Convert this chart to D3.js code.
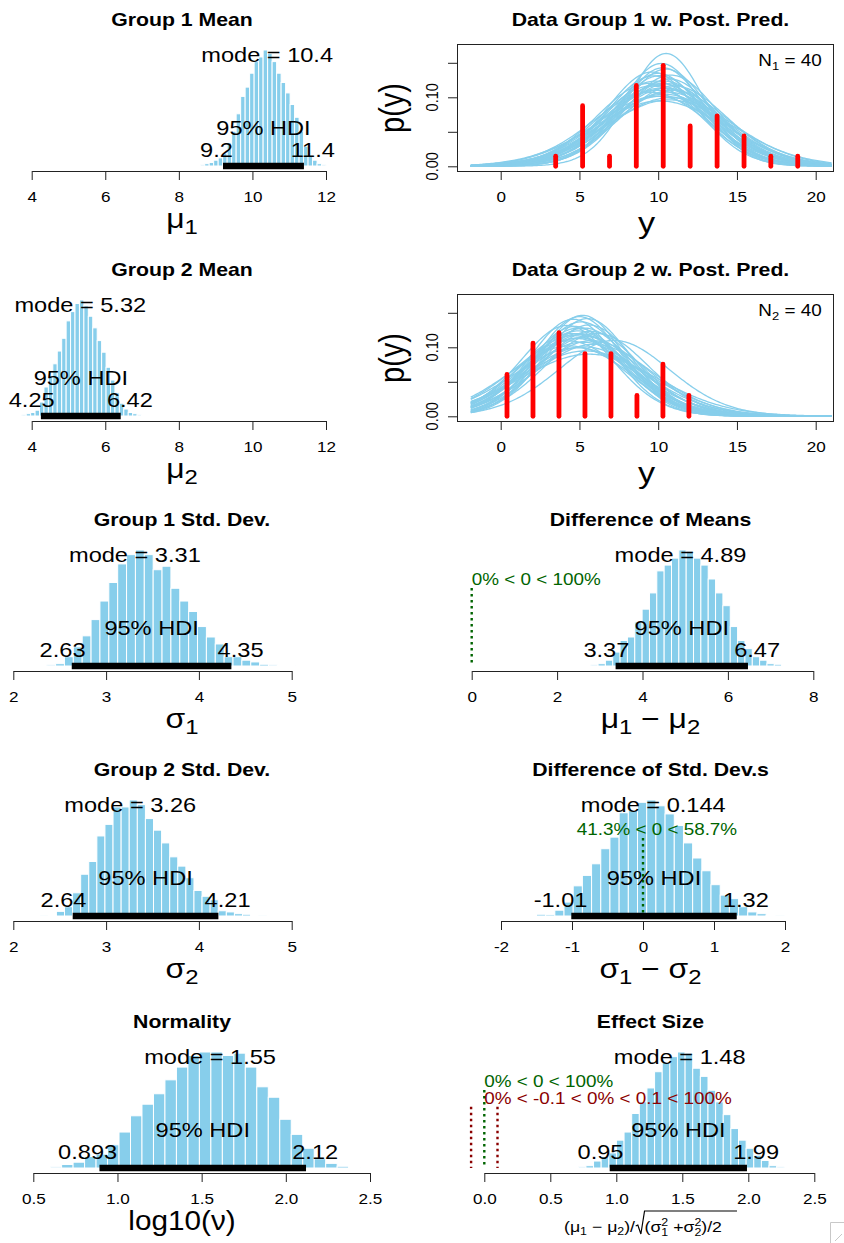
<!DOCTYPE html>
<html>
    <head>
        <meta charset="UTF-8">
        <title>BEST posterior</title>
        <style type="text/css">
            body { margin: 0; background: #ffffff; }
            #chart { display: block; font-family: "Liberation Sans", Arial, sans-serif; }
        </style>
        <script src="https://d3js.org/d3.v7.min.js"></script>
    </head>
    <body>
        <svg id="chart" width="844" height="1243"></svg>
        <script>
            // ---- values ----
            // histograms: [first break, bin width], relative bar heights, mode, 95% HDI
            const mu1Ticks = [4, 6, 8, 10, 12];
            const mu1Bins = [8.58, 0.1222];
            const mu1Density = [0.01, 0.02, 0.03, 0.05, 0.07, 0.11, 0.2, 0.3, 0.45, 0.6, 0.68, 0.8, 0.9, 0.94,
                                1.0, 0.97, 0.9, 0.8, 0.72, 0.63, 0.53, 0.42, 0.3, 0.17, 0.09, 0.05, 0.02, 0.01];
            const mu1Mode = 10.4, mu1Hdi = [9.2, 11.4];

            const mu2Ticks = [4, 6, 8, 10, 12];
            const mu2Bins = [3.73, 0.1206];
            const mu2Density = [0.01, 0.02, 0.03, 0.05, 0.12, 0.25, 0.35, 0.45, 0.56, 0.67, 0.82, 0.9, 0.97, 1.0,
                                0.95, 0.86, 0.76, 0.65, 0.55, 0.42, 0.31, 0.2, 0.11, 0.06, 0.03, 0.02, 0.01];
            const mu2Mode = 5.32, mu2Hdi = [4.25, 6.42];

            const sigma1Ticks = [2, 3, 4, 5];
            const sigma1Bins = [2.36, 0.0956];
            const sigma1Density = [0.01, 0.02, 0.08, 0.165, 0.26, 0.4, 0.56, 0.72, 0.88, 0.96, 1.0, 0.96, 0.83, 0.86,
                                   0.67, 0.56, 0.47, 0.34, 0.25, 0.19, 0.08, 0.08, 0.05, 0.035, 0.015, 0.01, 0.005, 0.005];
            const sigma1Mode = 3.31, sigma1Hdi = [2.63, 4.35];

            const sigma2Ticks = [2, 3, 4, 5];
            const sigma2Bins = [2.29, 0.0872];
            const sigma2Density = [0.003, 0.006, 0.04, 0.08, 0.2, 0.36, 0.47, 0.69, 0.79, 0.94, 0.94, 1.0, 0.96, 0.84,
                                   0.74, 0.63, 0.51, 0.43, 0.33, 0.22, 0.17, 0.14, 0.045, 0.035, 0.02, 0.015, 0.006, 0.003];
            const sigma2Mode = 3.26, sigma2Hdi = [2.64, 4.21];

            const diffMuTicks = [0, 2, 4, 6, 8];
            const diffMuBins = [2.615, 0.172];
            const diffMuDensity = [0.005, 0.01, 0.02, 0.05, 0.12, 0.22, 0.25, 0.38, 0.49, 0.63, 0.82, 0.87, 0.93, 1.0,
                                   0.99, 0.93, 0.87, 0.75, 0.63, 0.52, 0.34, 0.22, 0.15, 0.08, 0.05, 0.02, 0.015, 0.005];
            const diffMuMode = 4.89, diffMuHdi = [3.37, 6.47];
            const diffMuComp = [0, 0, 100];          // value, % below, % above

            const diffSdTicks = [-2, -1, 0, 1, 2];
            const diffSdBins = [-1.63, 0.1294];
            const diffSdDensity = [0.005, 0.015, 0.012, 0.05, 0.12, 0.26, 0.35, 0.45, 0.58, 0.68, 0.89, 0.91, 0.98, 1.0,
                                   0.95, 0.88, 0.78, 0.63, 0.5, 0.39, 0.27, 0.18, 0.15, 0.08, 0.035, 0.02, 0.005, 0.003];
            const diffSdMode = 0.144, diffSdHdi = [-1.01, 1.32];
            const diffSdComp = [0, 41.3, 58.7];

            const nuTicks = [0.5, 1.0, 1.5, 2.0, 2.5];
            const nuBins = [0.6, 0.0682];
            const nuDensity = [0.01, 0.03, 0.05, 0.1, 0.12, 0.2, 0.31, 0.45, 0.55, 0.64, 0.76, 0.87, 0.97, 1.0,
                               1.0, 0.97, 0.99, 0.87, 0.7, 0.61, 0.42, 0.29, 0.17, 0.08, 0.04, 0.015, 0.005];
            const nuMode = 1.55, nuHdi = [0.893, 2.12];

            const effTicks = [0, 0.5, 1.0, 1.5, 2.0, 2.5];
            const effBins = [0.712, 0.0578];
            const effDensity = [0.01, 0.02, 0.06, 0.1, 0.13, 0.24, 0.31, 0.47, 0.57, 0.69, 0.83, 0.91, 0.96, 1.0,
                                0.99, 0.86, 0.79, 0.67, 0.57, 0.46, 0.34, 0.24, 0.17, 0.11, 0.065, 0.02, 0.01];
            const effMode = 1.48, effHdi = [0.95, 1.99];
            const effComp = [0, 0, 100];
            const effRope = [-0.1, 0.1], effRopePct = [0, 0, 100];

            // data histograms of the two groups: bin centres, counts
            const y1Centers = [3.49, 5.2, 6.91, 8.61, 10.32, 12.03, 13.74, 15.45, 17.15, 18.86];
            const y1Counts = [1, 6, 1, 8, 10, 4, 5, 3, 1, 1];
            const y1BinWidth = 1.708;
            const y2Centers = [0.4, 2.05, 3.7, 5.35, 7.0, 8.65, 10.3, 11.95];
            const y2Counts = [4, 7, 8, 6, 6, 2, 5, 2];
            const y2BinWidth = 1.65;

            // posterior predictive t curves: [mu, sigma, nu]
            const g1Curves = [[10.2, 3.3, 30], [10.5, 3.5, 40], [9.8, 3.2, 25], [10.9, 3.6, 50], [10.1, 3.0, 20],
                              [10.4, 3.8, 60], [9.6, 3.4, 35], [10.7, 3.1, 15], [10.3, 3.9, 80], [9.9, 3.6, 45],
                              [10.6, 3.3, 28], [10.0, 2.9, 12], [10.8, 4.0, 90], [9.5, 3.7, 33], [10.2, 3.5, 55],
                              [10.5, 2.8, 22], [9.7, 3.0, 18], [11.0, 3.4, 38], [10.1, 4.2, 70], [10.4, 3.2, 26],
                              [9.4, 3.3, 40], [10.6, 3.7, 65], [10.3, 2.75, 16], [9.9, 3.9, 30], [10.8, 3.0, 42],
                              [10.0, 3.4, 100], [10.7, 4.1, 24], [9.6, 2.9, 36], [10.2, 2.65, 25], [10.5, 2.42, 30]];
            const g2Curves = [[5.0, 3.3, 30], [5.3, 3.1, 40], [4.8, 3.5, 25], [5.6, 3.0, 50], [4.6, 2.8, 20],
                              [5.2, 3.7, 60], [4.9, 3.2, 35], [5.5, 3.4, 15], [4.4, 3.9, 80], [5.1, 2.9, 45],
                              [5.8, 3.6, 28], [4.7, 3.0, 12], [5.4, 4.2, 90], [4.5, 3.3, 33], [5.0, 2.75, 55],
                              [5.7, 3.2, 22], [4.3, 3.6, 18], [5.9, 3.8, 38], [4.8, 4.0, 70], [5.2, 2.7, 26],
                              [6.1, 3.3, 40], [4.6, 3.4, 65], [5.3, 3.9, 16], [4.9, 3.1, 30], [5.5, 2.8, 42],
                              [5.0, 3.5, 100], [4.2, 3.0, 24], [5.6, 4.4, 36], [5.1, 3.3, 12], [7.2, 3.6, 30]];
            const predXTicks = [0, 5, 10, 15, 20];
            const predYTicks = [0, 0.05, 0.10, 0.15];
            const predYLabeled = [0, 0.10];
            const predRange = [-1.9, 21];

            // ---- layout ----
            const SKY = "#87CEEB";
            const SX = 1.18;                  // the picture is stretched sideways
            const rowY = [0, 250, 500, 750, 1002];
            const colX = [182, 650.5];
            const TITLE_Y = 26, BASE = 166, H = 116, AXIS_Y = 171, XLAB_Y = 228;

            const svg = d3.select("#chart");

            function txt(g, x, y, s, o = {}) {
                const sx = o.sx || SX;
                const t = g.append("text")
                    .attr("font-size", o.size || 14)
                    .attr("font-weight", o.bold ? "bold" : null)
                    .attr("fill", o.fill || "#000")
                    .attr("text-anchor", o.adj === undefined ? (o.anchor || "middle") : "start")
                    .text(s);
                let tx = x;
                if (o.adj !== undefined) tx = x - o.adj * t.node().getComputedTextLength() * sx;
                t.attr("transform", `translate(${tx},${y}) scale(${sx},1)` + (o.rot ? " rotate(-90)" : ""));
                return t;
            }

            // parts: [string, 0 normal | 1 subscript]
            function mathTxt(g, x, y, parts, size = 27) {
                const t = g.append("text").attr("font-size", size).attr("text-anchor", "start");
                let cur = 0;
                parts.forEach(([s, k]) => {
                    const off = k ? size * 0.22 : 0;
                    t.append("tspan").attr("dy", off - cur).attr("font-size", k ? size * 0.75 : size).text(s);
                    cur = off;
                });
                const w = t.node().getComputedTextLength();
                t.attr("transform", `translate(${x - w * SX / 2},${y}) scale(${SX},1)`);
            }

            function effectLabel(g, cx, y) {
                const s = 15, ss = 10.5, gg = g.append("g");
                const a = gg.append("text").attr("font-size", s);
                a.append("tspan").text("(μ");
                a.append("tspan").attr("font-size", ss).attr("dy", 3).text("1");
                a.append("tspan").attr("dy", -3).text(" − μ");
                a.append("tspan").attr("font-size", ss).attr("dy", 3).text("2");
                a.append("tspan").attr("dy", -3).text(")/");
                const wa = a.node().getComputedTextLength();
                const rx = wa + 0.5;
                const b = gg.append("text").attr("font-size", s).attr("x", rx + 7.5);
                const w2 = ss * 0.556;
                b.append("tspan").text("(σ");
                b.append("tspan").attr("font-size", ss).attr("dy", -6).text("2");
                b.append("tspan").attr("font-size", ss).attr("dx", -w2).attr("dy", 10).text("1");
                b.append("tspan").attr("dy", -4).text(" +σ");
                b.append("tspan").attr("font-size", ss).attr("dy", -6).text("2");
                b.append("tspan").attr("font-size", ss).attr("dx", -w2).attr("dy", 10).text("2");
                b.append("tspan").attr("dy", -4).text(")/2");
                const wb = b.node().getComputedTextLength();
                const end = rx + 7.5 + wb + 1;
                gg.append("path")
                    .attr("d", `M${rx},-6 l1.8,-1 l2.6,9 l3.1,-23 H${end}`)
                    .attr("fill", "none").attr("stroke", "#000").attr("stroke-width", 1);
                gg.attr("transform", `translate(${cx - end * SX / 2},${y}) scale(${SX},1)`);
            }

            function sig3(v) { return String(+v.toPrecision(3)); }

            function xAxis(g, x, ticks, fmt) {
                const ag = g.append("g").attr("transform", `translate(0,${AXIS_Y})`)
                    .call(d3.axisBottom(x).tickValues(ticks).tickSize(9).tickSizeOuter(0)
                        .tickPadding(11.5).tickFormat(fmt));
                ag.attr("font-size", 14.5).attr("font-family", null).attr("color", "#222");
                ag.selectAll("text").attr("fill", "#000").attr("transform", `scale(${SX},1)`);
            }

            function dotted(g, x, y0, y1, col) {
                g.append("line").attr("x1", x).attr("x2", x).attr("y1", y0).attr("y2", y1)
                    .attr("stroke", col).attr("stroke-width", 2.4).attr("stroke-dasharray", "2.5,3.5");
            }

            function drawHist(p) {
                const g = svg.append("g").attr("transform", `translate(0,${rowY[p.row]})`);
                const cx = colX[p.col];
                const x = d3.scaleLinear().domain(d3.extent(p.ticks)).range(p.px);
                const y = d3.scaleLinear().domain([0, d3.max(p.density)]).range([BASE, BASE - H]);
                const bins = p.density.map((d, i) => ({
                    x0: p.bins[0] + i * p.bins[1], x1: p.bins[0] + (i + 1) * p.bins[1], d
                }));
                g.append("g").selectAll("rect").data(bins).join("rect")
                    .attr("x", b => x(b.x0)).attr("y", b => y(b.d))
                    .attr("width", b => x(b.x1) - x(b.x0)).attr("height", b => BASE - y(b.d))
                    .attr("fill", SKY).attr("stroke", "#fff").attr("stroke-width", 1);

                if (p.comp) {
                    const [v, lt, gt] = p.comp;
                    dotted(g, x(v), y(0.96 * 0.7), BASE, "#006400");
                    txt(g, x(v), y(0.7), `${lt}% < ${v} < ${gt}%`, {size: 16, fill: "#006400", adj: lt / 100});
                }
                if (p.rope) {
                    const r = p.rope, q = p.ropePct;
                    r.forEach(v => dotted(g, x(v), y(0.96 * 0.55), BASE, "#8B0000"));
                    txt(g, x(d3.mean(r)), y(0.55), `${q[0]}% < ${r[0]} < ${q[1]}% < ${r[1]} < ${q[2]}%`,
                        {size: 16, fill: "#8B0000", adj: q[0] / 100});
                }

                txt(g, x(p.mode), y(0.9), `mode = ${sig3(p.mode)}`, {size: 20});
                g.append("line").attr("x1", x(p.hdi[0])).attr("x2", x(p.hdi[1]))
                    .attr("y1", BASE).attr("y2", BASE)
                    .attr("stroke", "#000").attr("stroke-width", 6.5);
                txt(g, x(d3.mean(p.hdi)), BASE - 31, "95% HDI", {size: 20});
                txt(g, x(p.hdi[0]), BASE - 9, sig3(p.hdi[0]), {size: 20, adj: 0.7});
                txt(g, x(p.hdi[1]), BASE - 9, sig3(p.hdi[1]), {size: 20, adj: 0.3});

                xAxis(g, x, p.ticks, p.fmt || (d => String(d)));
                txt(g, cx, TITLE_Y, p.title, {size: 18, bold: true});
                p.xlab(g, cx, XLAB_Y);
            }

            // Student t density
            const LC = [0.99999999999980993, 676.5203681218851, -1259.1392167224028, 771.32342877765313,
                        -176.61502916214059, 12.507343278686905, -0.13857109526572012,
                        9.9843695780195716e-6, 1.5056327351493116e-7];
            function lgamma(z) {
                z -= 1;
                let a = LC[0];
                const t = z + 7.5;
                for (let i = 1; i < 9; i++) a += LC[i] / (z + i);
                return 0.5 * Math.log(2 * Math.PI) + (z + 0.5) * Math.log(t) - t + Math.log(a);
            }
            function dt(v, mu, sigma, nu) {
                const z = (v - mu) / sigma;
                return Math.exp(lgamma((nu + 1) / 2) - lgamma(nu / 2) - 0.5 * Math.log(nu * Math.PI)
                    - Math.log(sigma) - (nu + 1) / 2 * Math.log(1 + z * z / nu));
            }

            function drawPred(p) {
                const g = svg.append("g").attr("transform", `translate(0,${rowY[p.row]})`);
                const x = d3.scaleLinear().domain([0, 20]).range([500.7, 815.7]);
                const y = d3.scaleLinear().domain([0, 0.15]).range([166.3, 62.8]);
                const grid = d3.range(predRange[0], predRange[1] + 1e-9, 0.1);
                const line = d3.line().x(d => x(d[0])).y(d => y(d[1]));

                g.append("g").selectAll("path").data(p.curves).join("path")
                    .attr("d", c => line(grid.map(v => [v, dt(v, c[0], c[1], c[2])])))
                    .attr("fill", "none").attr("stroke", SKY).attr("stroke-width", 1.3);

                const n = d3.sum(p.counts);
                const obs = p.centers.map((c, i) => ({c, d: p.counts[i] / (n * p.binWidth)}));
                g.append("g").selectAll("line").data(obs).join("line")
                    .attr("x1", d => x(d.c)).attr("x2", d => x(d.c))
                    .attr("y1", y(0)).attr("y2", d => y(d.d))
                    .attr("stroke", "#ff0000").attr("stroke-width", 4.8).attr("stroke-linecap", "round");

                g.append("rect").attr("x", 457.5).attr("y", 44.5).attr("width", 376).attr("height", 127)
                    .attr("fill", "none").attr("stroke", "#222").attr("stroke-width", 1);

                xAxis(g, x, predXTicks, d => String(d));
                const yg = g.append("g").attr("transform", "translate(457,0)")
                    .call(d3.axisLeft(y).tickValues(predYTicks).tickSize(9).tickSizeOuter(0).tickFormat(""));
                yg.attr("color", "#222");
                predYLabeled.forEach(v => txt(g, 438, y(v), v.toFixed(2), {size: 14.5, rot: true}));

                txt(g, 404, 108, "p(y)", {size: 29, rot: true});
                txt(g, 646.5, 233, "y", {size: 29});
                txt(g, colX[1], TITLE_Y, p.title, {size: 18, bold: true});

                const nt = g.append("text").attr("font-size", 16).attr("text-anchor", "end")
                    .attr("transform", `translate(821.7,66) scale(${SX},1)`);
                nt.append("tspan").text("N");
                nt.append("tspan").attr("font-size", 11).attr("dy", 4).text(p.group);
                nt.append("tspan").attr("dy", -4).text(` = ${n}`);
            }

            const fmt1 = d => d.toFixed(1);
            const mathLab = parts => (g, cx, y) => mathTxt(g, cx, y, parts);

            drawHist({row: 0, col: 0, title: "Group 1 Mean", ticks: mu1Ticks, px: [31.7, 326],
                      bins: mu1Bins, density: mu1Density, mode: mu1Mode, hdi: mu1Hdi,
                      xlab: mathLab([["μ", 0], ["1", 1]])});
            drawPred({row: 0, title: "Data Group 1 w. Post. Pred.", curves: g1Curves,
                      centers: y1Centers, counts: y1Counts, binWidth: y1BinWidth, group: "1"});
            drawHist({row: 1, col: 0, title: "Group 2 Mean", ticks: mu2Ticks, px: [31.7, 326],
                      bins: mu2Bins, density: mu2Density, mode: mu2Mode, hdi: mu2Hdi,
                      xlab: mathLab([["μ", 0], ["2", 1]])});
            drawPred({row: 1, title: "Data Group 2 w. Post. Pred.", curves: g2Curves,
                      centers: y2Centers, counts: y2Counts, binWidth: y2BinWidth, group: "2"});
            drawHist({row: 2, col: 0, title: "Group 1 Std. Dev.", ticks: sigma1Ticks, px: [13.3, 291.7],
                      bins: sigma1Bins, density: sigma1Density, mode: sigma1Mode, hdi: sigma1Hdi,
                      xlab: mathLab([["σ", 0], ["1", 1]])});
            drawHist({row: 2, col: 1, title: "Difference of Means", ticks: diffMuTicks, px: [471.7, 813.3],
                      bins: diffMuBins, density: diffMuDensity, mode: diffMuMode, hdi: diffMuHdi,
                      comp: diffMuComp,
                      xlab: mathLab([["μ", 0], ["1", 1], [" − μ", 0], ["2", 1]])});
            drawHist({row: 3, col: 0, title: "Group 2 Std. Dev.", ticks: sigma2Ticks, px: [13.3, 291.7],
                      bins: sigma2Bins, density: sigma2Density, mode: sigma2Mode, hdi: sigma2Hdi,
                      xlab: mathLab([["σ", 0], ["2", 1]])});
            drawHist({row: 3, col: 1, title: "Difference of Std. Dev.s", ticks: diffSdTicks, px: [501, 785],
                      bins: diffSdBins, density: diffSdDensity, mode: diffSdMode, hdi: diffSdHdi,
                      comp: diffSdComp,
                      xlab: mathLab([["σ", 0], ["1", 1], [" − σ", 0], ["2", 1]])});
            drawHist({row: 4, col: 0, title: "Normality", ticks: nuTicks, px: [33.3, 370], fmt: fmt1,
                      bins: nuBins, density: nuDensity, mode: nuMode, hdi: nuHdi,
                      xlab: (g, cx, y) => txt(g, cx, y, "log10(ν)", {size: 27, sx: 1.1})});
            drawHist({row: 4, col: 1, title: "Effect Size", ticks: effTicks, px: [484.3, 814.3], fmt: fmt1,
                      bins: effBins, density: effDensity, mode: effMode, hdi: effHdi,
                      comp: effComp, rope: effRope, ropePct: effRopePct,
                      xlab: (g, cx, y) => effectLabel(g, cx, y + 2)});

            // window resize grip seen in the corner of the screenshot
            svg.append("path").attr("d", "M830.5,1243V1222.5H844M835,1241L842,1234")
                .attr("fill", "none").attr("stroke", "#c8c8c8").attr("stroke-width", 1);
        </script>
    </body>
</html>
